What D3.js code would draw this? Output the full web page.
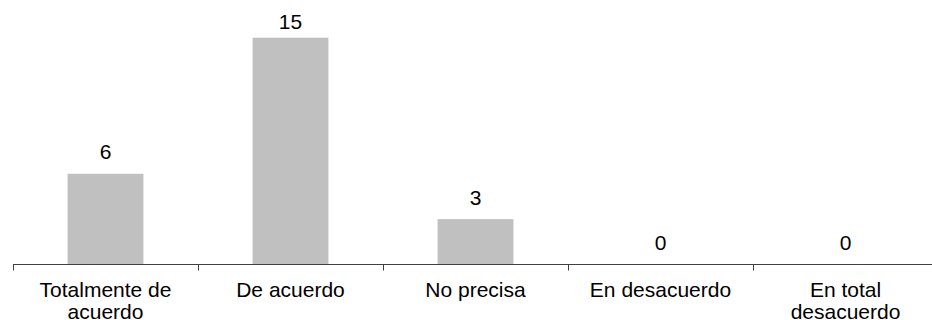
<!DOCTYPE html>
<html>
<head>
<meta charset="utf-8">
<script src="https://cdn.jsdelivr.net/npm/d3@7/dist/d3.min.js"></script>
<style>
  html, body { margin: 0; padding: 0; background: #fff; }
  svg { display: block; }
  text { font-family: "Liberation Sans", Arial, sans-serif; fill: #000; }
</style>
</head>
<body>
<svg id="chart" width="932" height="320"></svg>
<script>
// Survey responses per answer option
const categories = ["Totalmente de acuerdo", "De acuerdo", "No precisa", "En desacuerdo", "En total desacuerdo"];
const counts = [6, 15, 3, 0, 0];

const svg = d3.select("#chart");
const baseline = 264.5;
const plotTop = 37.7;
const fontSize = 21;

const x = d3.scaleBand()
  .domain(categories)
  .range([13, 938])
  .paddingInner(0.59)
  .paddingOuter(0.295);

const y = d3.scaleLinear()
  .domain([0, 15])
  .range([baseline, plotTop]);

// bars
svg.append("g").selectAll("rect")
  .data(categories)
  .join("rect")
  .attr("x", d => x(d))
  .attr("width", x.bandwidth())
  .attr("y", (d, i) => y(counts[i]))
  .attr("height", (d, i) => baseline - y(counts[i]))
  .attr("fill", "#c0c0c0");

// value labels above bars (kept inside the top edge)
svg.append("g").selectAll("text")
  .data(categories)
  .join("text")
  .attr("x", d => x(d) + x.bandwidth() / 2)
  .attr("y", (d, i) => Math.max(y(counts[i]) - 14.5, 29))
  .attr("text-anchor", "middle")
  .attr("font-size", fontSize)
  .text((d, i) => counts[i]);

// category axis: baseline with ticks at band boundaries
const axis = svg.append("g");
const [r0, r1] = x.range();
axis.append("line")
  .attr("x1", r0).attr("x2", r1)
  .attr("y1", baseline).attr("y2", baseline)
  .attr("stroke", "#404040").attr("stroke-width", 1);

const edges = categories.map(c => x(c) - x.step() * x.paddingInner() / 2);
edges.push(r1);
axis.selectAll("line.tick")
  .data(edges)
  .join("line")
  .attr("class", "tick")
  .attr("x1", d => Math.round(d) + 0.5).attr("x2", d => Math.round(d) + 0.5)
  .attr("y1", baseline).attr("y2", baseline + 6)
  .attr("stroke", "#404040").attr("stroke-width", 1);

// wrapped category labels
const maxWidth = 150;
const labels = axis.selectAll("text.cat")
  .data(categories)
  .join("text")
  .attr("class", "cat")
  .attr("text-anchor", "middle")
  .attr("font-size", fontSize)
  .attr("x", d => x(d) + x.bandwidth() / 2)
  .attr("y", 296.5);

labels.each(function(d) {
  const el = d3.select(this);
  const cx = x(d) + x.bandwidth() / 2;
  const words = d.split(" ");
  let line = [];
  let tspan = el.append("tspan").attr("x", cx).attr("dy", 0);
  for (const w of words) {
    line.push(w);
    tspan.text(line.join(" "));
    if (tspan.node().getComputedTextLength() > maxWidth && line.length > 1) {
      line.pop();
      tspan.text(line.join(" "));
      line = [w];
      tspan = el.append("tspan").attr("x", cx).attr("dy", 22).text(w);
    }
  }
});
</script>
</body>
</html>
